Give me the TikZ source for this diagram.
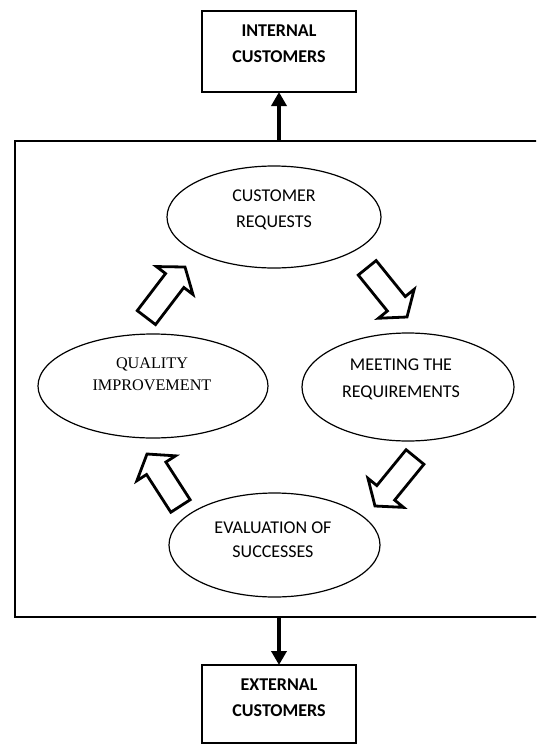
\documentclass[tikz,border=0pt]{standalone}
\usepackage{fontspec}
\setmainfont{Carlito}
\newfontfamily\serifface{Liberation Serif}
\usetikzlibrary{shapes.geometric,arrows.meta,calc}

% Hollow block arrow between coordinates #1t (tail) and #1p (tip)
\newcommand\hollowarrow[1]{%
  \coordinate (#1b) at ($(#1p)!17pt!(#1t)$);
  \draw[blockarrow]
    ($(#1t)!11.5pt!90:(#1p)$) --
    ($(#1b)!11.5pt!-90:(#1t)$) --
    ($(#1b)!23pt!-90:(#1t)$) --
    (#1p) --
    ($(#1b)!23pt!90:(#1t)$) --
    ($(#1b)!11.5pt!90:(#1t)$) --
    ($(#1t)!11.5pt!-90:(#1p)$) -- cycle;
}

\tikzset{
  framearea/.style={rectangle, inner sep=0pt, outer sep=0pt},
  frameline/.style={line width=2.6pt, line cap=rect},
  custbox/.style={draw, line width=2.6pt, rectangle, minimum width=154pt,
    minimum height=81pt, inner sep=0pt, outer sep=0pt},
  boxtext/.style={font=\bfseries\fontsize{18}{25.6}\selectfont, align=center, inner sep=0pt},
  oval/.style={draw, ellipse, line width=1.2pt, inner sep=0pt, outer sep=0pt},
  ovaltext/.style={font=\fontsize{18}{26.5}\selectfont, align=center, inner sep=0pt},
  serifovaltext/.style={font=\serifface\fontsize{16.2}{22.4}\selectfont, align=center, inner sep=0pt},
  blockarrow/.style={draw, line width=2.8pt, line join=miter, fill=white},
  flow/.style={line width=4pt, -{Triangle[length=14pt,width=15pt]}},
}

\begin{document}
\begin{tikzpicture}[x=1pt,y=-1pt]
  \useasboundingbox (0,0) rectangle (536,745);
  \clip (0,0) rectangle (536,745);

  % outer process frame; its right side runs off the page edge
  \node[framearea, minimum width=528pt, minimum height=476pt] (frame) at (279,379) {};
  \draw[frameline] (frame.north east) -- (frame.north west)
    -- (frame.south west) -- (frame.south east);

  % customer boxes
  \node[custbox] (inbox) at (279,51.5) {};
  \node[boxtext] (intext) at (279,43.5) {INTERNAL\\CUSTOMERS};
  \node[custbox, minimum height=78pt] (exbox) at (279,704) {};
  \node[boxtext] (extext) at (279,698) {EXTERNAL\\CUSTOMERS};

  \draw[flow] (frame.north) -- (inbox.south);
  \draw[flow] (frame.south) -- (exbox.north);

  % improvement cycle
  \node[oval, minimum width=214pt, minimum height=102pt] (cr) at (274,217) {};
  \node[ovaltext] (crtext) at (274,210) {CUSTOMER\\REQUESTS};

  \node[oval, minimum width=212pt, minimum height=108pt] (mr) at (408,387) {};
  \node[ovaltext] (mrtext) at (401,379.3) {MEETING THE\\REQUIREMENTS};

  \node[oval, minimum width=230pt, minimum height=104pt] (qi) at (153,386) {};
  \node[serifovaltext] (qitext) at (152,374) {QUALITY\\IMPROVEMENT};

  \node[oval, minimum width=211pt, minimum height=104pt] (es) at (274.5,545) {};
  \node[ovaltext, font=\fontsize{18}{24}\selectfont] (estext) at (273,539.3) {EVALUATION OF\\SUCCESSES};

  % block arrows between the stages
  \coordinate (aat) at (367.2,267.8); \coordinate (aap) at (407,317);
  \coordinate (abt) at (415,457);     \coordinate (abp) at (375,506);
  \coordinate (act) at (180.5,506);   \coordinate (acp) at (147,454);
  \coordinate (adt) at (146.4,317.6); \coordinate (adp) at (185,267);
  \hollowarrow{aa}
  \hollowarrow{ab}
  \hollowarrow{ac}
  \hollowarrow{ad}
\end{tikzpicture}
\end{document}
